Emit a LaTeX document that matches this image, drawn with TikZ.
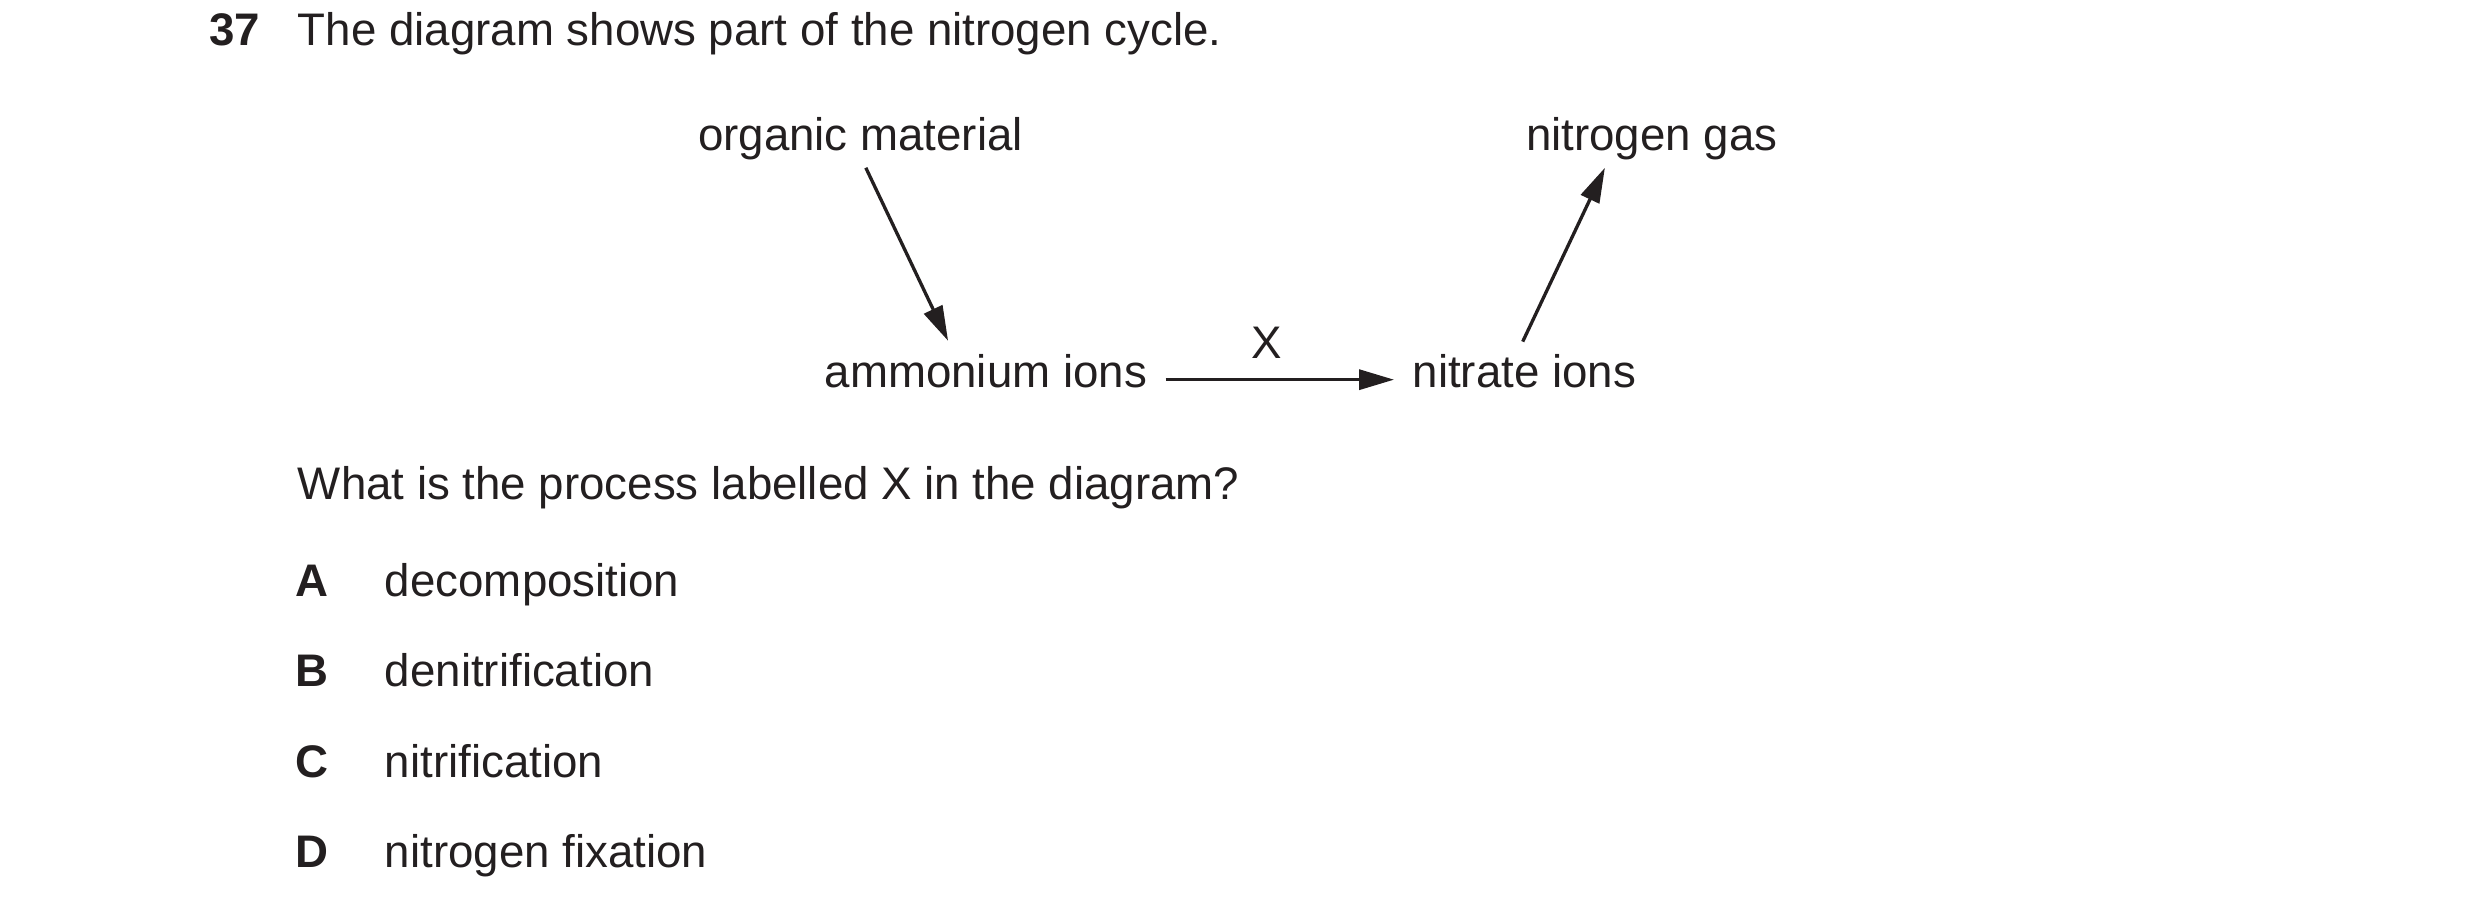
\documentclass[tikz,border=0pt]{standalone}
\usepackage{fontspec}
\setmainfont{Liberation Sans}
\usetikzlibrary{arrows.meta}
\definecolor{ink}{HTML}{231F20}

\begin{document}
\begin{tikzpicture}[
    every node/.style={inner sep=0, outer sep=0, text=ink, font=\fontsize{11pt}{13pt}\selectfont},
    arr/.style={draw=ink, line width=0.8pt, -{Triangle[length=8.4pt, width=4.8pt]}},
    ]
    \useasboundingbox (0,0) rectangle (21,7.7724);
    % Question
    \node[anchor=base west] (num) at (1.770,7.391) {\bfseries 37};
    \node[anchor=base west] (title) at (2.523,7.391) {The diagram shows part of the nitrogen cycle.};
    % Nodes
    \node[anchor=base] (organic) at (7.286,6.502) {organic material};
    \node[anchor=base] (gas) at (13.987,6.502) {nitrogen gas};
    \node[anchor=base] (ammonium) at (8.348,4.487) {ammonium ions};
    \node[anchor=base] (nitrate) at (12.908,4.487) {nitrate ions};
    % Arrows
    \draw[arr] ([xshift=1.3pt, yshift=-2pt]organic.south) -- ([xshift=-9.1pt, yshift=3.4pt]ammonium.north);
    \draw[arr, shorten <=4.5pt, shorten >=4.5pt] ([yshift=2pt]ammonium.base east) -- ([yshift=2pt]nitrate.base west)
        node[pos=0.45, above=5pt] (x) {X};
    \draw[arr] ([xshift=-0.4pt, yshift=3.2pt]nitrate.north) -- ([xshift=-11.3pt, yshift=-2pt]gas.south);
    % Options
    \node[anchor=base west] (ask) at (2.523,3.539) {What is the process labelled X in the diagram?};
    \node[anchor=base west] (optA) at (2.506,2.718) {\bfseries A};
    \node[anchor=base west] (txtA) at (3.260,2.718) {decomposition};
    \node[anchor=base west] (optB) at (2.506,1.956) {\bfseries B};
    \node[anchor=base west] (txtB) at (3.260,1.956) {denitrification};
    \node[anchor=base west] (optC) at (2.506,1.185) {\bfseries C};
    \node[anchor=base west] (txtC) at (3.260,1.185) {nitrification};
    \node[anchor=base west] (optD) at (2.506,0.423) {\bfseries D};
    \node[anchor=base west] (txtD) at (3.260,0.423) {nitrogen fixation};
\end{tikzpicture}
\end{document}
